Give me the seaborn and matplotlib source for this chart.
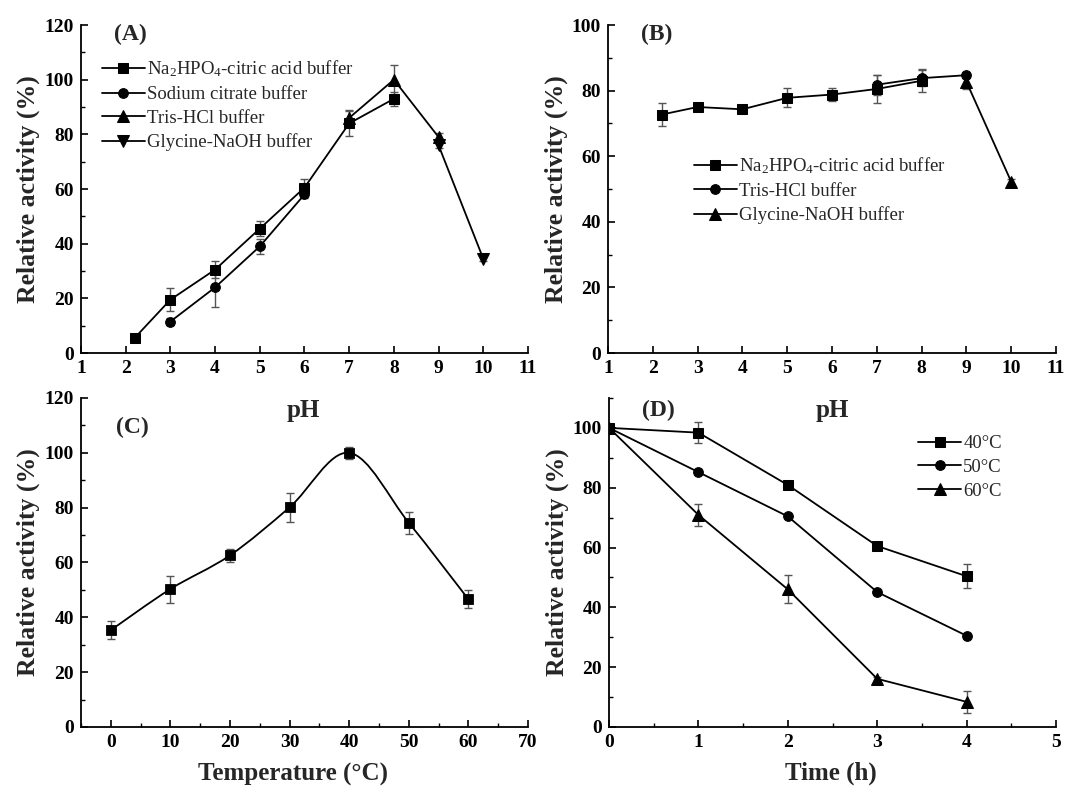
import numpy as np
import seaborn as sns
import matplotlib.pyplot as plt
from matplotlib.path import Path
from matplotlib.patches import PathPatch
from matplotlib.ticker import MultipleLocator

# (A) effect of pH on activity
a_na_ph = [2.2, 3, 4, 5, 6, 7, 8]
a_na_act = [5.5, 19.5, 30.5, 45.5, 60.5, 84.0, 93.0]
a_na_err = [0.8, 4.3, 3.2, 2.7, 3.0, 4.5, 2.6]
a_cit_ph = [3, 4, 5, 6]
a_cit_act = [11.5, 24.0, 39.0, 58.0]
a_cit_err = [1.2, 7.0, 2.6, 1.2]
a_tris_ph = [7, 8, 9]
a_tris_act = [86.0, 100.0, 79.0]
a_tris_err = [3.0, 5.5, 1.5]
a_gly_ph = [9, 10]
a_gly_act = [76.0, 34.5]
a_gly_err = [1.0, 1.0]

# (B) pH stability
b_na_ph = [2.2, 3, 4, 5, 6, 7, 8]
b_na_act = [72.7, 75.0, 74.3, 77.8, 78.8, 80.5, 83.0]
b_na_err = [3.5, 1.0, 0.8, 2.9, 2.1, 4.4, 3.5]
b_tris_ph = [7, 8, 9]
b_tris_act = [81.8, 83.8, 84.7]
b_tris_err = [3.0, 2.5, 0.8]
b_gly_ph = [9, 10]
b_gly_act = [82.7, 52.2]
b_gly_err = [2.2, 0.8]

# (C) effect of temperature
c_temp = [0, 10, 20, 30, 40, 50, 60]
c_act = [35.3, 50.3, 62.6, 80.1, 100.0, 74.5, 46.6]
c_err = [3.2, 4.9, 2.4, 5.3, 2.1, 4.0, 3.3]

# (D) thermostability
d_time = [0, 1, 2, 3, 4]
d_40 = [100.0, 98.4, 80.9, 60.5, 50.4]
d_40_err = [0.0, 3.5, 0.6, 1.0, 4.0]
d_50 = [100.0, 85.2, 70.4, 45.1, 30.5]
d_50_err = [0.0, 0.6, 0.6, 0.5, 0.6]
d_60 = [100.0, 70.9, 46.0, 16.1, 8.4]
d_60_err = [0.0, 3.8, 4.7, 0.6, 3.6]

sns.set_theme(style='ticks')
plt.rcParams['font.family'] = ['Liberation Serif', 'DejaVu Serif']
plt.rcParams['font.weight'] = 'bold'
plt.rcParams['mathtext.fontset'] = 'custom'
plt.rcParams['mathtext.rm'] = 'Liberation Serif'
plt.rcParams['mathtext.default'] = 'regular'
plt.rcParams['xtick.direction'] = 'in'
plt.rcParams['ytick.direction'] = 'in'

fig = plt.figure(figsize=(10.81, 7.94), dpi=100)
axA = fig.add_axes([0.0749, 0.5554, 0.4135, 0.4131])
axB = fig.add_axes([0.5624, 0.5554, 0.4145, 0.4131])
axC = fig.add_axes([0.0749, 0.0844, 0.4135, 0.4144])
axD = fig.add_axes([0.5634, 0.0844, 0.4135, 0.4144])
for ax in [axC, axD]:
    ax.patch.set_alpha(0)

ERR = dict(fmt='none', ecolor='#555555', elinewidth=1, capsize=3, capthick=1, zorder=2)


def series(ax, x, y, err, marker, label=None, ms=7):
    ax.errorbar(x, y, yerr=err, **ERR)
    sns.lineplot(x=x, y=y, ax=ax, color='black', lw=1.3, marker=marker,
                 markersize=ms, markeredgecolor='black', label=label,
                 sort=False, legend=False, zorder=3)


def style(ax, xlim, ylim, xmaj, xmin, ymaj, ymin):
    ax.set_xlim(*xlim)
    ax.set_ylim(*ylim)
    ax.xaxis.set_major_locator(MultipleLocator(xmaj))
    ax.yaxis.set_major_locator(MultipleLocator(ymaj))
    if xmin:
        ax.xaxis.set_minor_locator(MultipleLocator(xmin))
    if ymin:
        ax.yaxis.set_minor_locator(MultipleLocator(ymin))
    sns.despine(ax=ax)
    for s in ['left', 'bottom']:
        ax.spines[s].set_linewidth(1.3)
        ax.spines[s].set_color('black')
    ax.tick_params(which='major', length=5, width=1.2, labelsize=14, colors='black', pad=5)
    ax.tick_params(which='minor', length=3, width=1.0, colors='black')
    for t in ax.get_xticklabels() + ax.get_yticklabels():
        t.set_fontweight('bold')
    ax.set_ylabel('Relative activity (%)', fontsize=18.5, fontweight='bold', labelpad=3)


LEG = dict(frameon=False, prop={'weight': 'normal', 'size': 13.5}, handlelength=2.3,
           handletextpad=0.1, labelspacing=0.35, borderaxespad=0)

# (A)
series(axA, a_na_ph, a_na_act, a_na_err, 's', 'Na$_2$HPO$_4$-citric acid buffer')
series(axA, a_cit_ph, a_cit_act, a_cit_err, 'o', 'Sodium citrate buffer')
series(axA, a_tris_ph, a_tris_act, a_tris_err, '^', 'Tris-HCl buffer', ms=8)
series(axA, a_gly_ph, a_gly_act, a_gly_err, 'v', 'Glycine-NaOH buffer', ms=8)
style(axA, (1, 11), (0, 120), 1, None, 20, 10)
axA.legend(loc='upper left', bbox_to_anchor=(0.03, 0.92), **LEG)
axA.set_xlabel('pH', fontsize=18, fontweight='bold')
axA.xaxis.set_label_coords(0.497, -0.14)
axA.text(0.075, 0.97, '(A)', transform=axA.transAxes, fontsize=17, fontweight='bold', va='center')

# (B)
series(axB, b_na_ph, b_na_act, b_na_err, 's', 'Na$_2$HPO$_4$-citric acid buffer')
series(axB, b_tris_ph, b_tris_act, b_tris_err, 'o', 'Tris-HCl buffer')
series(axB, b_gly_ph, b_gly_act, b_gly_err, '^', 'Glycine-NaOH buffer', ms=8)
style(axB, (1, 11), (0, 100), 1, None, 20, 10)
axB.legend(loc='upper left', bbox_to_anchor=(0.175, 0.625), **LEG)
axB.set_xlabel('pH', fontsize=18, fontweight='bold')
axB.xaxis.set_label_coords(0.5, -0.14)
axB.text(0.073, 0.97, '(B)', transform=axB.transAxes, fontsize=17, fontweight='bold', va='center')

# (C) smooth curve through the points (Catmull-Rom as cubic Bezier)
pts = np.column_stack([c_temp, c_act])
verts = [tuple(pts[0])]
codes = [Path.MOVETO]
for i in range(len(pts) - 1):
    p0 = pts[max(i - 1, 0)]
    p1, p2 = pts[i], pts[i + 1]
    p3 = pts[min(i + 2, len(pts) - 1)]
    verts += [tuple(p1 + (p2 - p0) / 6), tuple(p2 - (p3 - p1) / 6), tuple(p2)]
    codes += [Path.CURVE4] * 3
axC.add_patch(PathPatch(Path(verts, codes), fill=False, lw=1.3, color='black', zorder=3))
axC.errorbar(c_temp, c_act, yerr=c_err, **ERR)
sns.scatterplot(x=c_temp, y=c_act, ax=axC, marker='s', color='black', s=55,
                edgecolor='black', zorder=4, legend=False)
style(axC, (-5, 70), (0, 120), 10, 5, 20, 10)
axC.set_xlabel('Temperature (°C)', fontsize=18, fontweight='bold')
axC.xaxis.set_label_coords(0.474, -0.11)
axC.text(0.078, 0.909, '(C)', transform=axC.transAxes, fontsize=17, fontweight='bold', va='center')

# (D)
series(axD, d_time, d_40, d_40_err, 's', '40°C')
series(axD, d_time, d_50, d_50_err, 'o', '50°C')
series(axD, d_time, d_60, d_60_err, '^', '60°C', ms=8)
style(axD, (0, 5), (0, 110), 1, 0.5, 20, 10)
axD.legend(loc='upper left', bbox_to_anchor=(0.675, 0.91), **LEG)
axD.set_xlabel('Time (h)', fontsize=18, fontweight='bold')
axD.xaxis.set_label_coords(0.497, -0.105)
axD.text(0.073, 0.963, '(D)', transform=axD.transAxes, fontsize=17, fontweight='bold', va='center')

fig.savefig('out.png', dpi=100)
